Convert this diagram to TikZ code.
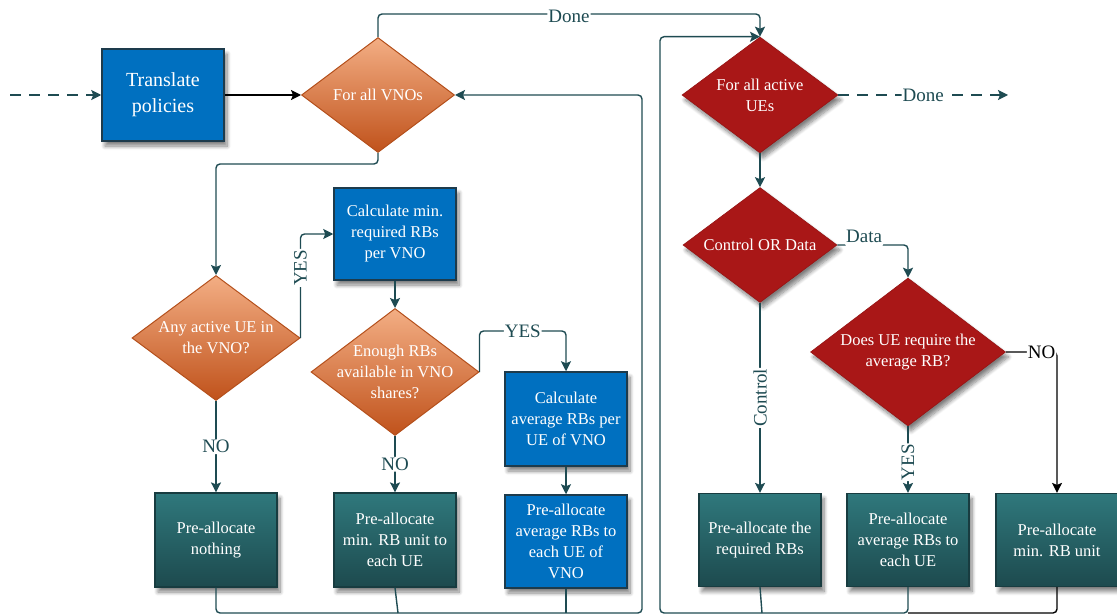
\documentclass[tikz,border=0pt]{standalone}
\usepackage{fontspec}
\setmainfont{Liberation Serif}
\newfontfamily\chartfont{Liberation Serif}
\usetikzlibrary{shapes.geometric,arrows.meta,shadows.blur,calc}

\definecolor{cLine}{HTML}{1E4B52}
\definecolor{cBlue}{HTML}{0070C0}
\definecolor{cBlueEdge}{HTML}{1D3B4C}
\definecolor{cTealTop}{HTML}{2F787C}
\definecolor{cTealBot}{HTML}{1D4A4E}
\definecolor{cTealEdge}{HTML}{183C40}
\definecolor{cOrangeTop}{HTML}{F3AE84}
\definecolor{cOrangeBot}{HTML}{C0521B}
\definecolor{cOrangeEdge}{HTML}{B4501C}
\definecolor{cRed}{HTML}{A91717}

\begin{document}
\begin{tikzpicture}[x=1pt,y=-1pt,
  txt/.style={text=white, align=center, font=\chartfont\fontsize{16.5}{21}\selectfont},
  softshadow/.style={blur shadow={shadow xshift=3pt, shadow yshift=-5pt,
      shadow blur steps=8, shadow blur radius=4pt, shadow opacity=50}},
  bluebox/.style={txt, rectangle, draw=cBlueEdge, line width=1.5pt, fill=cBlue,
      minimum width=122pt, minimum height=92pt, inner sep=2pt, softshadow},
  tealbox/.style={txt, rectangle, draw=cTealEdge, line width=1.2pt,
      top color=cTealTop, bottom color=cTealBot,
      minimum width=122pt, minimum height=93pt, inner sep=2pt, softshadow},
  orangedia/.style={diamond, draw=cOrangeEdge, line width=1pt,
      top color=cOrangeTop, bottom color=cOrangeBot, inner sep=0pt},
  reddia/.style={diamond, fill=cRed, draw=cRed!88!black, line width=0.6pt,
      inner sep=0pt, softshadow},
  conn/.style={draw=cLine, line width=1.4pt, rounded corners=4pt,
      -{Stealth[length=10pt,width=10pt,inset=2pt]}},
  wire/.style={draw=cLine, line width=1.4pt, rounded corners=4pt},
  dashedconn/.style={conn, dash pattern=on 11pt off 8pt},
  lab/.style={text=cLine, fill=white, inner sep=1pt, font=\chartfont\fontsize{19}{22}\selectfont},
]
\useasboundingbox (0,0) rectangle (1117,615);

% ---------------- left part: per-VNO loop ----------------
\node[bluebox, font=\chartfont\fontsize{20}{26}\selectfont] (translate) at (163,95) {Translate\\policies};

\node[orangedia, minimum width=153pt, minimum height=115pt,
      label={[txt]center:For all VNOs}] (vno) at (378,95) {};

\node[orangedia, minimum width=168pt, minimum height=125pt,
      label={[txt]center:Any active UE in\\the VNO?}] (any) at (216,338) {};

\node[bluebox] (calcmin) at (395,234) {Calculate min.\\required RBs\\per VNO};

\node[orangedia, minimum width=168pt, minimum height=127pt,
      label={[txt]center:Enough RBs\\available in VNO\\shares?}] (enough) at (395,372) {};

\node[bluebox, minimum height=94pt] (calcavg) at (566,419) {Calculate\\average RBs per\\UE of VNO};

\node[tealbox, minimum height=94pt] (pnothing) at (216,540) {Pre-allocate\\nothing};
\node[tealbox, minimum height=94pt] (pminue) at (395,540) {Pre-allocate\\min. RB unit to\\each UE};
\node[bluebox, minimum height=93pt] (pavg) at (566,541.5) {Pre-allocate\\average RBs to\\each UE of\\VNO};

% ---------------- right part: per-UE loop ----------------
\node[reddia, minimum width=156pt, minimum height=116pt,
      label={[txt]center:For all active\\UEs}] (ues) at (760,95) {};

\node[reddia, minimum width=154pt, minimum height=115pt,
      label={[txt]center:Control OR Data}] (cod) at (760,245) {};

\node[reddia, minimum width=195pt, minimum height=148pt,
      label={[txt]center:Does UE require the\\average RB?}] (does) at (908,352) {};

\node[tealbox] (preq) at (760,540) {Pre-allocate the\\required RBs};
\node[tealbox] (pavgue) at (908,540) {Pre-allocate\\average RBs to\\each UE};
\node[tealbox] (pmin) at (1057,540) {Pre-allocate\\min. RB unit};

% free ends and bus corners
\coordinate (in) at (10,95);
\coordinate (out) at (1008,95);
\coordinate (topY) at (0,14);
\coordinate (lb) at (642,613);
\coordinate (rb) at (660,613);

% ---------------- connectors ----------------
\draw[dashedconn] (in) -- (translate.west);
\draw[conn, draw=black] (translate.east) -- (vno.west);

\draw[conn] (vno.north) -- (vno.north |- topY)
  -| node[lab, pos=0.25, yshift=-2pt] {Done} (ues.north);

\draw[conn] (vno.south) -- ++(0,11) -| (any.north);
\draw[conn] (any.east) |- node[lab, rotate=90, pos=0.337] {YES} (calcmin.west);
\draw[conn] (any.south) -- node[lab] {NO} (pnothing.north);
\draw[conn] (calcmin.south) -- (enough.north);
\draw[conn] (enough.east) -- ++(0,-41) -| node[lab, pos=0.25] {YES} (calcavg.north);
\draw[conn] (enough.south) -- node[lab] {NO} (pminue.north);
\draw[conn] (calcavg.south) -- (pavg.north);

% return bus to the VNO loop
\draw[conn] (pnothing.south) |- (lb) |- (vno.east);
\draw[wire] (pminue.south) -- ($(pminue.south |- lb)+(3,0)$);
\draw[wire] (pavg.south) -- (pavg.south |- lb);

% UE loop
\draw[dashedconn] (ues.east) -- node[lab] {Done} (out);
\draw[conn] (ues.south) -- (cod.north);
\draw[conn] (cod.east) -| node[lab, pos=0.19, anchor=south, yshift=-4pt, text depth=5pt] {Data} (does.north);
\draw[conn] (cod.south) -- node[lab, rotate=90] {Control} (preq.north);
\draw[conn] (does.south) -- node[lab, rotate=90, pos=0.54] {YES} (pavgue.north);
\draw[conn, draw=black] (does.east) -| node[lab, text=black, pos=0.35] {NO} (pmin.north);

% return bus to the UE loop
\draw[conn] (pavgue.south) |- (rb) |- (ues.north);
\draw[wire] (preq.south) -- ($(preq.south |- rb)+(2,0)$);
\draw[wire, draw=black] (pmin.south) |- (pavgue.south |- rb);
\end{tikzpicture}
\end{document}
